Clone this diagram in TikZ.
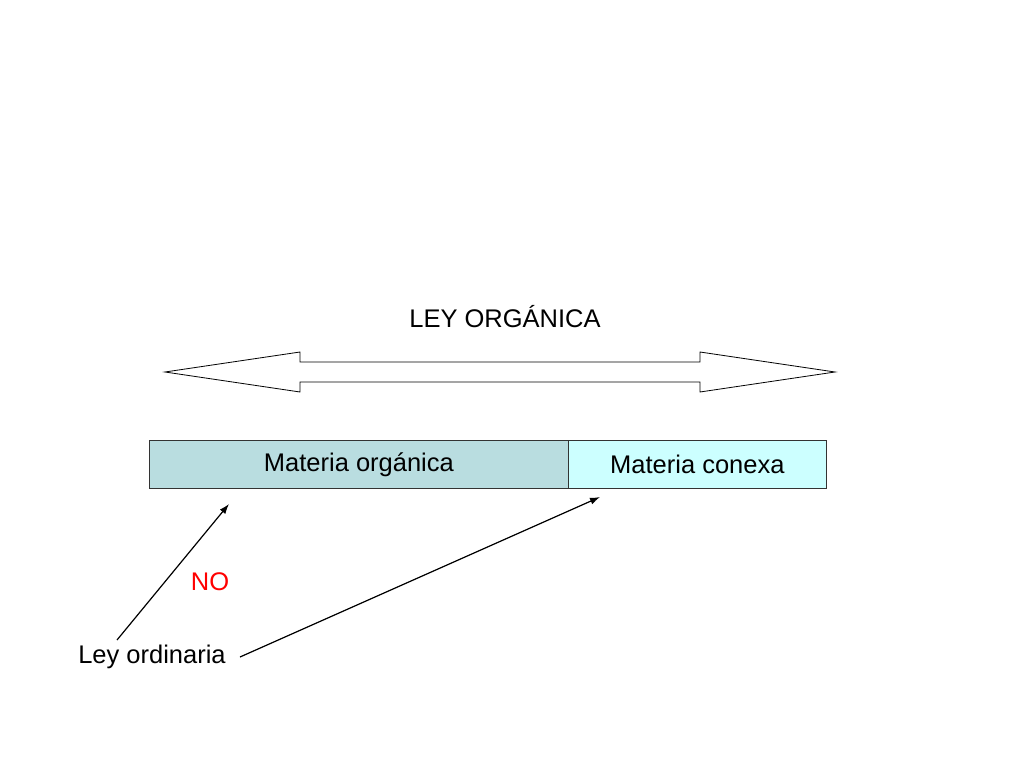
\documentclass[tikz,border=0pt]{standalone}
\usepackage{fontspec}
\setmainfont{Liberation Sans}
\usetikzlibrary{arrows.meta}
\begin{document}
\begin{tikzpicture}[x=1pt,y=-1pt,
  lbl/.style={font=\fontsize{25.5}{30}\selectfont},
  boxa/.style={draw=black!80,line width=0.8pt,minimum height=48pt,inner sep=0pt,font=\fontsize{25.5}{30}\selectfont},
  conn/.style={-{Latex[length=10pt,width=7pt]},line width=1.2pt}]
\useasboundingbox (0,0) rectangle (1024,768);
\node[lbl] (lo) at (505,317) {LEY ORGÁNICA};
\draw[line width=0.8pt,fill=white] (165,372) -- (300,352) -- (300,362) -- (700,362) -- (700,352) -- (835,372) -- (700,392) -- (700,382) -- (300,382) -- (300,392) -- cycle;
\node[boxa,fill={rgb,255:red,185;green,221;blue,224},minimum width=419pt,anchor=north west] (mo) at (149,440) {\raisebox{-2pt}{Materia orgánica}};
\node[boxa,fill={rgb,255:red,204;green,255;blue,255},minimum width=258pt,anchor=north west] (mc) at (568,440) {Materia conexa};
\node[lbl] (lord) at (152,657) {Ley ordinaria};
\node[lbl,text=red] (no) at (210,582) {NO};
\coordinate (a1) at (229,504);
\coordinate (a2) at (600,497);
\coordinate (s2) at (240,657);
\draw[conn] (117,640) -- (a1);
\draw[conn] (s2) -- (a2);
\end{tikzpicture}
\end{document}
